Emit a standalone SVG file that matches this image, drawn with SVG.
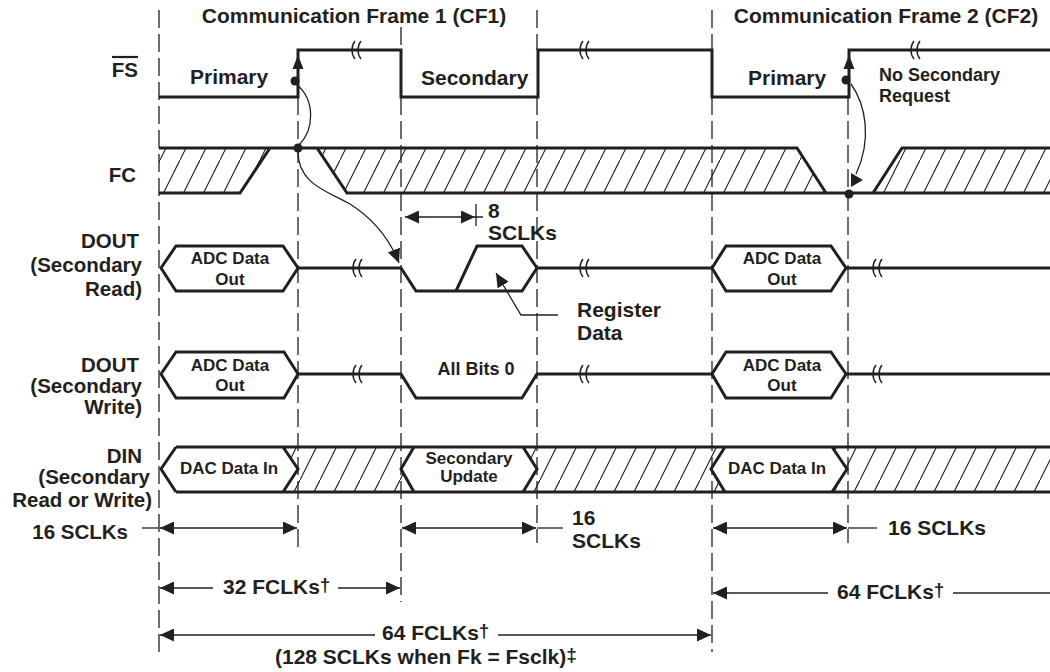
<svg xmlns="http://www.w3.org/2000/svg" width="1050" height="672" viewBox="0 0 1050 672">
<defs>
<style>
text{font-family:"Liberation Sans",Arial,Helvetica,sans-serif;font-weight:bold;fill:#231f20;font-size:21px}
.lb{font-size:20.5px}
.s18{font-size:18px}
.s17{font-size:17px}
.sup{font-size:19px}
.sig{fill:none;stroke:#231f20;stroke-width:3;stroke-linejoin:miter}
.hex{fill:#fff;stroke:#231f20;stroke-width:3;stroke-linejoin:miter}
.dash{fill:none;stroke:#231f20;stroke-width:1.3;stroke-dasharray:18 6}
.dim{fill:none;stroke:#231f20;stroke-width:1.3}
.brk{fill:none;stroke:#231f20;stroke-width:1.4}
.hatch{fill:url(#hatch);stroke:none}
.dot{fill:#231f20}
</style>
<pattern id="hatch" patternUnits="userSpaceOnUse" width="20" height="40">
<path d="M-1,42 L21,-2" stroke="#231f20" stroke-width="1.2" fill="none"/>
</pattern>
<marker id="ah" markerUnits="userSpaceOnUse" markerWidth="15" markerHeight="13" refX="14" refY="6.5" orient="auto-start-reverse">
<path d="M0,0 L14,6.5 L0,13 z" fill="#231f20"/>
</marker>
<path id="bm" class="brk" d="M1,-9 C-3,-4 -3,4 1,9 M7,-9 C3,-4 3,4 7,9"/>
</defs>
<rect width="1050" height="672" fill="#fff"/>

<g id="gridlines">
<path class="dash" d="M159,10 V653 M298,97 V547 M401,27 V50 M401,97 V602 M537,10 V50 M537,97 V543 M712,10 V50 M712,97 V652 M848,97 V543"/>
</g>

<g id="titles">
<text x="354" y="23" text-anchor="middle">Communication Frame 1 (CF1)</text>
<text x="886" y="23" text-anchor="middle">Communication Frame 2 (CF2)</text>
</g>

<g id="row-labels">
<text class="lb" x="138" y="77" text-anchor="end">FS</text>
<line x1="112" y1="57" x2="138" y2="57" stroke="#231f20" stroke-width="2.2"/>
<text class="lb" x="136" y="182" text-anchor="end">FC</text>
<text class="lb" x="139" y="248" text-anchor="end">DOUT</text>
<text class="lb" x="142" y="272" text-anchor="end">(Secondary</text>
<text class="lb" x="142" y="296" text-anchor="end">Read)</text>
<text class="lb" x="139" y="372" text-anchor="end">DOUT</text>
<text class="lb" x="142" y="393" text-anchor="end">(Secondary</text>
<text class="lb" x="142" y="414" text-anchor="end">Write)</text>
<text class="lb" x="142" y="463" text-anchor="end">DIN</text>
<text class="lb" x="150" y="484" text-anchor="end">(Secondary</text>
<text class="lb" x="152" y="507" text-anchor="end">Read or Write)</text>
</g>

<g id="fs-signal">
<path class="sig" d="M159,97 H298 V50 H401 V97 H538 V50 H712 V97 H849 V50 H1050"/>
<use href="#bm" x="354" y="50"/>
<use href="#bm" x="582" y="50"/>
<use href="#bm" x="913" y="50"/>
<polygon points="298,55 292.5,69 303.5,69" class="dot"/>
<polygon points="849,55 843.5,69 854.5,69" class="dot"/>
<circle class="dot" cx="295" cy="81" r="4.5"/>
<circle class="dot" cx="846" cy="80" r="4.5"/>
<text x="190" y="84">Primary</text>
<text x="421" y="85">Secondary</text>
<text x="748" y="85">Primary</text>
<text class="s18" x="879" y="81">No Secondary</text>
<text class="s18" x="879" y="102">Request</text>
</g>

<g id="fc-signal">
<polygon class="hatch" points="159,148 270,148 240,193 159,193"/>
<polygon class="hatch" points="317,148 797,148 826,193 347,193"/>
<polygon class="hatch" points="902,148 1050,148 1050,193 873,193"/>
<path class="sig" d="M159,148 H797 L826,193 M159,193 H240 L270,148 M317,148 L347,193 H1050 M873,193 L902,148 H1050"/>
<circle class="dot" cx="298" cy="148" r="4.5"/>
<circle class="dot" cx="849" cy="194" r="4.5"/>
</g>

<g id="dout-read">
<polygon class="hex" points="161,268 176,246 283,246 298,268 283,291 176,291"/>
<path class="sig" d="M298,268 H401 L416,291 H522 L537,268 H712"/>
<path class="sig" d="M456,291 L477,246 H522 L537,268"/>
<polygon class="hex" points="712,268 726,246 831,246 846,268 831,291 726,291"/>
<path class="sig" d="M846,268 H1050"/>
<use href="#bm" x="355" y="268"/>
<use href="#bm" x="582" y="268"/>
<use href="#bm" x="875" y="268"/>
<text class="s17" x="230" y="264" text-anchor="middle">ADC Data</text>
<text class="s17" x="230" y="285" text-anchor="middle">Out</text>
<text class="s17" x="782" y="264" text-anchor="middle">ADC Data</text>
<text class="s17" x="782" y="285" text-anchor="middle">Out</text>
<text x="488" y="218">8</text>
<text x="488" y="240">SCLKs</text>
<text x="577" y="317">Register</text>
<text x="577" y="340">Data</text>
</g>

<g id="dout-write">
<polygon class="hex" points="161,374 176,352 284,352 298,374 284,398 176,398"/>
<path class="sig" d="M298,374 H401 L416,398 H522 L537,374 H712"/>
<polygon class="hex" points="712,374 726,352 831,352 846,374 831,398 726,398"/>
<path class="sig" d="M846,374 H1050"/>
<use href="#bm" x="355" y="374"/>
<use href="#bm" x="582" y="374"/>
<use href="#bm" x="875" y="374"/>
<text class="s17" x="230" y="371" text-anchor="middle">ADC Data</text>
<text class="s17" x="230" y="391" text-anchor="middle">Out</text>
<text class="s17" x="782" y="371" text-anchor="middle">ADC Data</text>
<text class="s17" x="782" y="391" text-anchor="middle">Out</text>
<text class="s18" x="476" y="375" text-anchor="middle">All Bits 0</text>
</g>

<g id="din">
<polygon class="hatch" points="283,447 414,447 401,469 414,492 283,492 298,469"/>
<polygon class="hatch" points="523,447 725,447 711,469 725,492 523,492 537,469"/>
<polygon class="hatch" points="832,447 1050,447 1050,492 832,492 847,469"/>
<path class="sig" d="M176,447 H1050 M176,492 H1050 M176,447 L161,469 L176,492 M283,447 L298,469 L283,492 M414,447 L401,469 L414,492 M523,447 L537,469 L523,492 M725,447 L711,469 L725,492 M832,447 L847,469 L832,492"/>
<text class="s17" x="229" y="474" text-anchor="middle">DAC Data In</text>
<text class="s17" x="469" y="464" text-anchor="middle">Secondary</text>
<text class="s17" x="469" y="482" text-anchor="middle">Update</text>
<text class="s17" x="777" y="474" text-anchor="middle">DAC Data In</text>
</g>

<g id="connectors">
<path class="dim" d="M296,84 C316,100 314,130 299,145"/>
<path class="dim" d="M298,150 C297,185 330,192 350,204 C375,220 390,240 399,263" marker-end="url(#ah)"/>
<path class="dim" d="M851,84 C866,105 872,140 856,174"/>
<polygon class="dot" points="851,173 851,187 863,180"/>
<line class="dim" x1="405" y1="217" x2="475" y2="217" marker-start="url(#ah)" marker-end="url(#ah)"/>
<path class="dim" d="M475,217 H483 M476,204 V226"/>
<path class="dim" d="M558,315 H521 L496,273" marker-end="url(#ah)"/>
<line class="dim" x1="142" y1="528" x2="159" y2="528"/>
<line class="dim" x1="160" y1="528" x2="297" y2="528" marker-start="url(#ah)" marker-end="url(#ah)"/>
<line class="dim" x1="402" y1="528" x2="536" y2="528" marker-start="url(#ah)" marker-end="url(#ah)"/>
<line class="dim" x1="537" y1="528" x2="563" y2="528"/>
<line class="dim" x1="713" y1="528" x2="847" y2="528" marker-start="url(#ah)" marker-end="url(#ah)"/>
<line class="dim" x1="848" y1="528" x2="877" y2="528"/>
<line class="dim" x1="160" y1="588" x2="213" y2="588" marker-start="url(#ah)"/>
<line class="dim" x1="338" y1="588" x2="400" y2="588" marker-end="url(#ah)"/>
<line class="dim" x1="713" y1="593" x2="828" y2="593" marker-start="url(#ah)"/>
<line class="dim" x1="953" y1="593" x2="1050" y2="593"/>
<line class="dim" x1="160" y1="635" x2="375" y2="635" marker-start="url(#ah)"/>
<line class="dim" x1="498" y1="635" x2="711" y2="635" marker-end="url(#ah)"/>
</g>

<g id="dim-labels">
<text class="lb" x="128" y="539" text-anchor="end">16 SCLKs</text>
<text x="572" y="525">16</text>
<text x="572" y="548">SCLKs</text>
<text x="888" y="535">16 SCLKs</text>
<text x="223" y="594">32 FCLKs<tspan class="sup" dy="-3">†</tspan></text>
<text x="837" y="599">64 FCLKs<tspan class="sup" dy="-3">†</tspan></text>
<text x="382" y="640">64 FCLKs<tspan class="sup" dy="-3">†</tspan></text>
<text x="275" y="664">(128 SCLKs when Fk = Fsclk)<tspan class="sup" dy="-3">‡</tspan></text>
</g>
</svg>
